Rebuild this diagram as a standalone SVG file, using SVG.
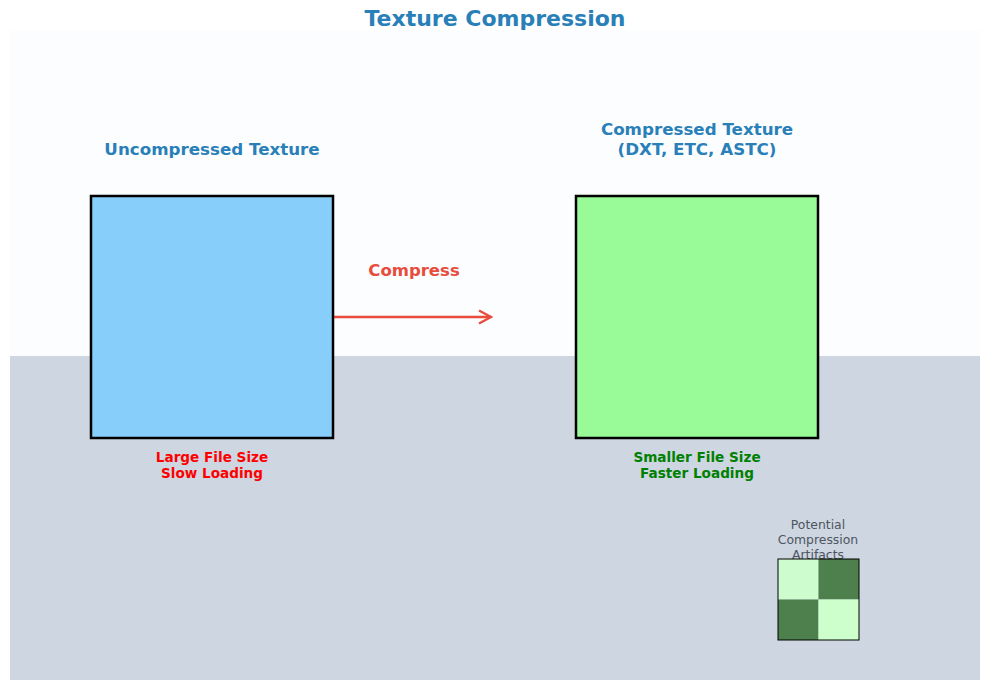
<svg xmlns="http://www.w3.org/2000/svg" width="989" height="690" viewBox="0 0 989 690">
<defs>
<style>
text{font-family:"DejaVu Sans","Liberation Sans",sans-serif;text-anchor:middle;}
.h{font-weight:bold;font-size:16.7px;fill:#2980b9;}
.box{stroke:#000;stroke-width:2.5;}
.note{font-weight:bold;font-size:13.6px;}
.art{font-size:12.4px;fill:#4d5560;}
</style>
<marker id="ah" viewBox="0 0 16 16" refX="14" refY="8" markerWidth="16" markerHeight="16" markerUnits="userSpaceOnUse" orient="auto">
<path d="M2,1.5 L14,8 L2,14.5" fill="none" stroke="#e74c3c" stroke-width="2.4"/>
</marker>
</defs>
<rect width="989" height="690" fill="#ffffff"/>
<rect x="10" y="30" width="970" height="326" fill="#fcfdfe"/>
<rect x="10" y="356" width="970" height="324" fill="#cdd6e1"/>
<text x="495" y="26" style="font-weight:bold;font-size:22px;fill:#2980b9">Texture Compression</text>
<g id="connectors">
<line x1="334" y1="317" x2="491" y2="317" stroke="#e74c3c" stroke-width="2.6" marker-end="url(#ah)"/>
<text x="414" y="276" style="font-weight:bold;font-size:16.5px;fill:#e74c3c">Compress</text>
</g>
<g id="uncompressed">
<text class="h" x="212" y="155">Uncompressed Texture</text>
<rect class="box" x="91" y="196" width="242" height="242" fill="#87cefa"/>
<text class="note" x="212" y="462" fill="#ff0000">Large File Size</text>
<text class="note" x="212" y="478" fill="#ff0000">Slow Loading</text>
</g>
<g id="compressed">
<text class="h" x="697" y="135">Compressed Texture</text>
<text class="h" x="697" y="155">(DXT, ETC, ASTC)</text>
<rect class="box" x="576" y="196" width="242" height="242" fill="#98fb98"/>
<text class="note" x="697" y="462" fill="#008000">Smaller File Size</text>
<text class="note" x="697" y="478" fill="#008000">Faster Loading</text>
</g>
<g id="artifacts">
<text class="art" x="818" y="529">Potential</text>
<text class="art" x="818" y="544">Compression</text>
<text class="art" x="818" y="559">Artifacts</text>
<rect x="778" y="559" width="40.5" height="40.5" fill="#ccffcc" fill-opacity="0.95"/>
<rect x="818.5" y="559" width="40.5" height="40.5" fill="#4d804d"/>
<rect x="778" y="599.5" width="40.5" height="40.5" fill="#4d804d"/>
<rect x="818.5" y="599.5" width="40.5" height="40.5" fill="#ccffcc"/>
<rect x="778" y="559" width="81" height="81" fill="none" stroke="#000" stroke-width="1"/>
</g>
</svg>
